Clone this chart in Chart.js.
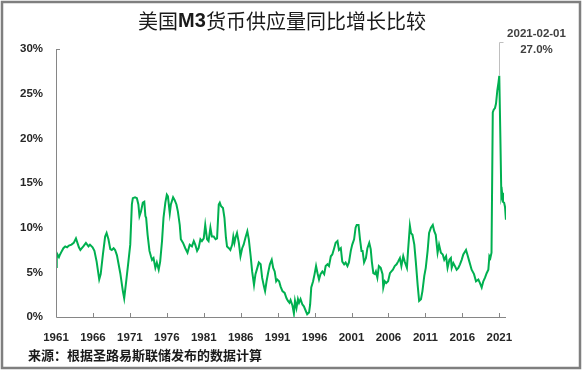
<!DOCTYPE html>
<html>
<head>
<meta charset="utf-8">
<script src="https://cdn.jsdelivr.net/npm/chart.js@4/dist/chart.umd.min.js"></script>
<style>
    html, body { margin: 0; padding: 0; background: #fff; }
    #wrap { position: relative; width: 583px; height: 371px; }
</style>
</head>
<body>
<div id="wrap"><canvas id="m3Chart" width="583" height="371"></canvas></div>
<script>
// Year (decimal) and M3 YoY growth in %
const years = [
    1961.0, 1961.1, 1961.2, 1961.4, 1961.55, 1961.8, 1962.0, 1962.25, 1962.5, 1962.75,
    1963.1, 1963.4, 1963.7, 1963.9, 1964.1, 1964.3, 1964.5, 1964.7, 1965.05, 1965.4,
    1965.6, 1965.95, 1966.2, 1966.5, 1966.85, 1967.05, 1967.35, 1967.65, 1967.85, 1968.1,
    1968.35, 1968.55, 1968.8, 1969.0, 1969.25, 1969.7, 1970.05, 1970.23, 1970.5, 1970.8,
    1971.05, 1971.27, 1971.4, 1971.7, 1971.95, 1972.15, 1972.3, 1972.5, 1972.75, 1972.95,
    1973.1, 1973.2, 1973.4, 1973.65, 1973.85, 1974.0, 1974.2, 1974.45, 1974.65, 1974.9,
    1975.1, 1975.35, 1975.55, 1975.8, 1976.0, 1976.15, 1976.4, 1976.55, 1976.85, 1977.05,
    1977.3, 1977.5, 1977.75, 1977.9, 1978.2, 1978.5, 1978.8, 1979.1, 1979.4, 1979.65,
    1979.85, 1980.1, 1980.3, 1980.55, 1980.75, 1981.0, 1981.2, 1981.45, 1981.65, 1981.9,
    1982.1, 1982.35, 1982.6, 1982.8, 1983.03, 1983.17, 1983.35, 1983.6, 1983.8, 1984.0,
    1984.15, 1984.4, 1984.6, 1984.85, 1985.0, 1985.15, 1985.3, 1985.5, 1985.75, 1985.97,
    1986.2, 1986.4, 1986.65, 1986.9, 1987.1, 1987.35, 1987.55, 1987.8, 1988.0, 1988.25,
    1988.45, 1988.7, 1988.9, 1989.15, 1989.3, 1989.5, 1989.7, 1989.95, 1990.2, 1990.4,
    1990.6, 1990.8, 1990.95, 1991.2, 1991.4, 1991.65, 1991.95, 1992.2, 1992.4, 1992.6,
    1992.75, 1993.0, 1993.2, 1993.35, 1993.55, 1993.75, 1993.9, 1994.1, 1994.35, 1994.55,
    1994.8, 1995.0, 1995.25, 1995.4, 1995.55, 1995.8, 1996.0, 1996.2, 1996.4, 1996.6,
    1996.8, 1997.05, 1997.3, 1997.5, 1997.75, 1997.95, 1998.2, 1998.4, 1998.65, 1998.85,
    1999.1, 1999.3, 1999.55, 1999.75, 2000.0, 2000.2, 2000.45, 2000.65, 2000.9, 2001.1,
    2001.35, 2001.55, 2001.7, 2001.95, 2002.15, 2002.35, 2002.5, 2002.7, 2002.95, 2003.15,
    2003.4, 2003.6, 2003.75, 2003.95, 2004.15, 2004.3, 2004.5, 2004.7, 2004.95, 2005.2,
    2005.3, 2005.5, 2005.7, 2005.95, 2006.2, 2006.4, 2006.6, 2006.85, 2007.1, 2007.3,
    2007.55, 2007.75, 2008.0, 2008.2, 2008.5, 2008.65, 2008.9, 2009.05, 2009.25, 2009.5,
    2009.7, 2009.95, 2010.15, 2010.4, 2010.6, 2010.85, 2011.05, 2011.3, 2011.5, 2011.75,
    2012.0, 2012.2, 2012.4, 2012.65, 2012.85, 2013.1, 2013.35, 2013.55, 2013.8, 2014.0,
    2014.25, 2014.45, 2014.56, 2014.78, 2015.0, 2015.23, 2015.46, 2015.68, 2015.91, 2016.13,
    2016.5, 2016.68, 2016.95, 2017.26, 2017.58, 2017.85, 2018.17, 2018.39, 2018.62, 2018.84,
    2019.07, 2019.29, 2019.52, 2019.66, 2019.79, 2019.95, 2020.12, 2020.25, 2020.42, 2020.56,
    2020.74, 2020.9, 2021.0, 2021.15, 2021.28, 2021.38, 2021.5, 2021.65, 2021.78, 2021.9
];
const growth = [
    5.6, 6.6, 7.0, 6.7, 7.0, 7.4, 7.7, 7.9, 7.8, 8.0,
    8.1, 8.3, 8.8, 8.3, 7.8, 7.5, 7.7, 7.9, 8.3, 7.9,
    8.1, 7.8, 7.4, 6.2, 4.2, 4.8, 7.0, 9.0, 9.4, 8.7,
    7.6, 7.5, 7.7, 7.5, 6.9, 4.9, 2.9, 2.1, 4.0, 6.2,
    8.1, 12.6, 13.3, 13.4, 13.3, 12.6, 11.3, 11.8, 12.8, 12.9,
    11.3, 11.1, 9.2, 7.4, 6.8, 6.4, 6.6, 5.5, 6.1, 5.3,
    6.2, 8.5, 11.1, 12.8, 13.7, 13.5, 11.6, 12.6, 13.4, 13.1,
    12.6, 11.8, 10.3, 8.7, 8.3, 7.7, 7.2, 8.1, 7.9, 8.5,
    8.1, 7.4, 7.7, 8.7, 8.5, 8.8, 10.3, 8.7, 8.5, 10.0,
    9.0, 9.0, 8.7, 8.8, 12.6, 12.8, 12.4, 12.2, 11.1, 8.9,
    7.9, 7.7, 7.5, 8.1, 9.0, 8.3, 8.9, 9.4, 8.3, 6.8,
    7.7, 8.1, 8.9, 9.6, 8.7, 6.8, 5.1, 3.6, 4.8, 5.5,
    6.1, 5.9, 4.4, 3.4, 2.9, 4.0, 4.9, 5.9, 6.4, 5.5,
    5.1, 4.0, 4.2, 4.0, 3.4, 2.9, 2.7, 2.1, 1.8, 1.6,
    1.9, 1.3, 0.4, 1.8, 1.0, 2.0, 1.6, 2.0, 1.4, 1.2,
    0.7, 0.3, 0.5, 1.4, 3.3, 4.0, 4.8, 5.7, 4.9, 4.2,
    4.8, 5.1, 4.8, 5.7, 5.9, 5.7, 6.8, 7.0, 7.7, 8.3,
    8.5, 7.5, 7.7, 6.2, 5.9, 6.1, 5.7, 6.1, 7.4, 8.1,
    8.7, 10.0, 10.3, 10.3, 8.7, 7.4, 7.4, 6.1, 6.6, 7.7,
    8.3, 7.6, 6.2, 4.9, 4.8, 5.1, 4.4, 5.7, 5.5, 4.8,
    3.3, 4.0, 3.8, 4.0, 4.9, 5.1, 5.3, 5.7, 5.9, 6.2,
    6.6, 5.7, 6.8, 6.2, 5.5, 7.4, 10.2, 9.4, 9.2, 8.1,
    6.2, 3.6, 1.8, 2.0, 2.9, 4.6, 5.5, 7.4, 9.4, 10.0,
    10.3, 9.6, 9.2, 7.2, 8.1, 7.2, 7.0, 6.4, 6.8, 5.5,
    6.4, 6.6, 5.5, 6.05, 5.7, 5.3, 5.5, 5.9, 6.4, 7.0,
    7.5, 7.0, 6.2, 5.3, 4.8, 4.0, 4.2, 3.8, 3.3, 4.0,
    4.4, 4.9, 5.3, 6.8, 6.6, 7.2, 22.9, 23.2, 23.4, 23.9,
    25.4, 26.3, 27.0, 20.0, 13.5, 13.9, 12.9, 12.8, 12.3, 10.9
];
const xTicks = [1961, 1966, 1971, 1976, 1981, 1986, 1991, 1996, 2001, 2006, 2011, 2016, 2021];
const yTicks = [0, 5, 10, 15, 20, 25, 30];
const peakDate = '2021-02-01';

const titleParts = [['美国', false], ['M3', true], ['货币供应量同比增长比较', false]];
const sourceText = '来源：根据圣路易斯联储发布的数据计算';

const GREEN = '#00b050';
const AXIS = '#868686';
const TEXT = '#262626';
const CJK = "'Noto Sans CJK SC', sans-serif";
const LATIN = "'Liberation Sans', Arial, sans-serif";

// Frame, title, axes, peak callout and source line
const decorations = {
    id: 'decorations',
    afterDraw(chart) {
        const { ctx, scales: { x, y }, chartArea: area } = chart;
        ctx.save();

        // outer frame
        ctx.strokeStyle = '#7f7f7f';
        ctx.lineWidth = 2.5;
        ctx.strokeRect(2, 2, 578, 366);

        // axes with inside tick marks
        ctx.strokeStyle = AXIS;
        ctx.lineWidth = 1;
        ctx.beginPath();
        ctx.moveTo(area.left + 0.5, y.getPixelForValue(30));
        ctx.lineTo(area.left + 0.5, area.bottom + 0.5);
        ctx.lineTo(area.right, area.bottom + 0.5);
        xTicks.slice(1).forEach(v => {
            const px = Math.round(x.getPixelForValue(v)) + 0.5;
            ctx.moveTo(px, area.bottom);
            ctx.lineTo(px, area.bottom - 4);
        });
        const topY = Math.round(y.getPixelForValue(30)) + 0.5;
        ctx.moveTo(area.left, topY);
        ctx.lineTo(area.left + 4, topY);
        ctx.stroke();

        // title
        ctx.fillStyle = '#1a1a1a';
        ctx.textBaseline = 'middle';
        ctx.textAlign = 'left';
        const fonts = titleParts.map(([, bold]) => bold ? `bold 20px ${LATIN}` : `20px ${CJK}`);
        let total = 0;
        titleParts.forEach(([t], i) => { ctx.font = fonts[i]; total += ctx.measureText(t).width; });
        let tx = 282 - total / 2;
        titleParts.forEach(([t], i) => {
            ctx.font = fonts[i];
            ctx.fillText(t, tx, 21);
            tx += ctx.measureText(t).width;
        });

        // peak callout
        const i = growth.indexOf(Math.max(...growth));
        const px = Math.round(x.getPixelForValue(years[i])) + 0.5;
        const py = y.getPixelForValue(growth[i]);
        ctx.strokeStyle = '#bfbfbf';
        ctx.beginPath();
        ctx.moveTo(px, py);
        ctx.lineTo(px, 42.5);
        ctx.lineTo(px + 4, 42.5);
        ctx.stroke();
        ctx.fillStyle = '#404040';
        ctx.textAlign = 'center';
        ctx.font = `bold 11.5px ${LATIN}`;
        ctx.fillText(peakDate, px + 37, 34);
        ctx.fillText(growth[i].toFixed(1) + '%', px + 37, 50);

        // source
        ctx.fillStyle = '#1a1a1a';
        ctx.textAlign = 'left';
        ctx.font = `bold 13px ${CJK}`;
        ctx.fillText(sourceText, 28, 355);

        ctx.restore();
    }
};

const ctx = document.getElementById('m3Chart').getContext('2d');
new Chart(ctx, {
    type: 'line',
    data: {
        datasets: [{
            label: 'M3 YoY',
            data: years.map((yr, i) => ({ x: yr, y: growth[i] })),
            borderColor: GREEN,
            borderWidth: 2,
            pointRadius: 0,
            tension: 0,
            fill: false
        }]
    },
    options: {
        responsive: false,
        animation: false,
        layout: { padding: { left: 0, top: 49, right: 77, bottom: 0 } },
        plugins: {
            legend: { display: false },
            tooltip: { enabled: false },
            title: { display: false }
        },
        scales: {
            x: {
                type: 'linear',
                min: 1961,
                max: 2021.91,
                grid: { display: false, drawTicks: false },
                border: { display: false },
                afterBuildTicks: (scale) => { scale.ticks = xTicks.map(v => ({ value: v })); },
                afterFit: (scale) => { scale.height = 54; },
                ticks: {
                    autoSkip: false,
                    maxRotation: 0,
                    padding: 14,
                    color: TEXT,
                    font: { family: LATIN, size: 11.5, weight: 'bold' },
                    callback: (v) => String(v)
                }
            },
            y: {
                min: 0,
                max: 30,
                grid: { display: false, drawTicks: false },
                border: { display: false },
                afterBuildTicks: (scale) => { scale.ticks = yTicks.map(v => ({ value: v })); },
                afterFit: (scale) => { scale.width = 56; },
                ticks: {
                    padding: 13,
                    color: TEXT,
                    font: { family: LATIN, size: 11.5, weight: 'bold' },
                    callback: (v) => v + '%'
                }
            }
        }
    },
    plugins: [decorations]
});
</script>
</body>
</html>
